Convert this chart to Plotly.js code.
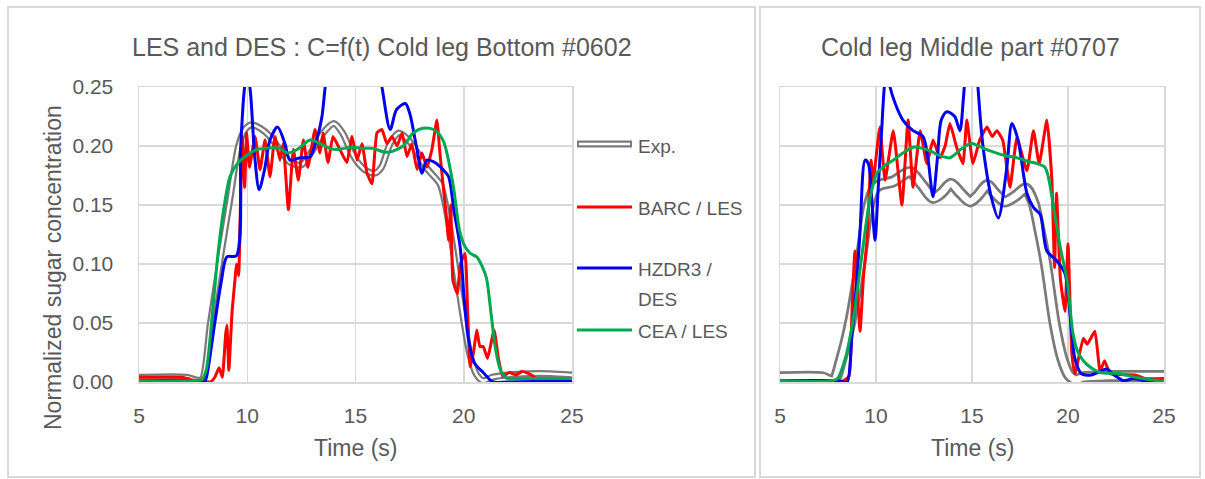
<!DOCTYPE html>
<html>
<head>
<meta charset="utf-8">
<script src="https://cdn.plot.ly/plotly-3.0.1.min.js"></script>
<style>html,body{margin:0;padding:0;background:#fff;}#chart{width:1205px;height:479px;}</style>
</head>
<body>
<div id="chart"></div>
<script>
// ---------- DATA ----------
const xTicks = [5, 10, 15, 20, 25];
const yTicks = [0, 0.05, 0.10, 0.15, 0.20, 0.25];
const seriesNames = ["Exp.", "BARC / LES", "HZDR3 / DES", "CEA / LES"];

// Left panel: Cold leg Bottom #0602
const expL_t = [5, 7.2, 7.6, 7.9, 8.3, 8.74, 9.2, 9.6, 9.9, 10.2, 10.6, 11.0, 11.5, 12.0, 12.5, 13.0, 13.5, 14.0, 14.4, 14.8, 15.1, 15.5, 15.9, 16.2, 16.6, 17.0, 17.4, 17.8, 18.3, 18.9, 19.1, 19.4, 19.7, 20.0, 20.3, 20.6, 20.9, 21.3, 22, 23, 24, 25];
const expL_c = [0.004, 0.004, 0.002, 0.002, 0.05, 0.103, 0.155, 0.2, 0.214, 0.218, 0.215, 0.209, 0.197, 0.186, 0.184, 0.196, 0.211, 0.219, 0.211, 0.195, 0.186, 0.179, 0.177, 0.182, 0.202, 0.211, 0.206, 0.196, 0.181, 0.168, 0.155, 0.125, 0.088, 0.052, 0.022, 0.006, 0.001, 0.004, 0.006, 0.007, 0.007, 0.006];

const barcL_t = [5, 7.0, 7.4, 7.8, 8.3, 8.5, 8.7, 8.85, 9.0, 9.06, 9.15, 9.3, 9.43, 9.5, 9.6, 9.76, 9.88, 9.97, 10.1, 10.36, 10.59, 10.82, 11.05, 11.28, 11.51, 11.66, 11.9, 12.13, 12.36, 12.59, 12.8, 13.13, 13.36, 13.5, 13.73, 13.96, 14.28, 14.6, 14.84, 15.07, 15.3, 15.53, 15.76, 15.99, 16.22, 16.45, 16.69, 16.92, 17.15, 17.38, 17.6, 17.84, 18.07, 18.3, 18.53, 18.76, 18.9, 19.04, 19.2, 19.3, 19.4, 19.5, 19.7, 19.85, 20.06, 20.18, 20.3, 20.45, 20.6, 20.75, 20.9, 21.1, 21.4, 21.6, 21.8, 22.1, 22.4, 22.7, 23.0, 23.2, 23.4, 25];
const barcL_c = [0.004, 0.004, 0.002, 0.001, 0.0, 0.004, 0.012, 0.004, 0.04, 0.048, 0.01, 0.06, 0.086, 0.10, 0.09, 0.208, 0.165, 0.211, 0.182, 0.208, 0.18, 0.205, 0.174, 0.208, 0.188, 0.202, 0.146, 0.197, 0.171, 0.205, 0.182, 0.214, 0.194, 0.211, 0.186, 0.208, 0.197, 0.186, 0.208, 0.188, 0.202, 0.177, 0.168, 0.211, 0.214, 0.202, 0.208, 0.2, 0.211, 0.191, 0.202, 0.18, 0.194, 0.182, 0.197, 0.222, 0.194, 0.168, 0.14, 0.12, 0.15, 0.086, 0.075, 0.1, 0.109, 0.06, 0.013, 0.025, 0.044, 0.03, 0.03, 0.02, 0.044, 0.02, 0.005, 0.008, 0.006, 0.009, 0.007, 0.005, 0.002, 0.002];

const hzdrL_t = [5, 7.0, 7.5, 8.0, 8.1, 8.5, 8.8, 9.06, 9.5, 9.7, 9.85, 10.0, 10.15, 10.35, 10.55, 10.8, 11.05, 11.4, 11.74, 11.97, 12.44, 12.9, 13.2, 13.45, 13.6, 13.9, 14.5, 15.2, 15.8, 16.22, 16.6, 16.9, 17.3, 17.5, 17.84, 18.07, 18.3, 18.67, 19.04, 19.3, 19.55, 19.83, 20.0, 20.2, 20.5, 20.9, 21.35, 22, 25];
const hzdrL_c = [0.001, 0.001, 0.0, 0.0, 0.003, 0.05, 0.085, 0.106, 0.107, 0.2, 0.245, 0.265, 0.245, 0.19, 0.163, 0.18, 0.205, 0.216, 0.202, 0.188, 0.19, 0.191, 0.205, 0.225, 0.25, 0.29, 0.33, 0.33, 0.29, 0.25, 0.214, 0.231, 0.236, 0.228, 0.197, 0.177, 0.188, 0.186, 0.18, 0.174, 0.145, 0.115, 0.075, 0.038, 0.016, 0.008, 0.0, 0.0, 0.001];

const ceaL_t = [5, 7.5, 7.9, 8.1, 8.4, 8.65, 8.9, 9.2, 9.5, 9.83, 10.45, 11.5, 11.85, 12.3, 12.9, 13.36, 13.8, 14.2, 14.75, 15.3, 15.8, 16.3, 16.6, 17.2, 17.66, 18.1, 18.6, 19.04, 19.5, 19.8, 20.05, 20.3, 20.6, 20.85, 21.05, 21.25, 21.45, 21.7, 22.0, 22.5, 25];
const ceaL_c = [0.001, 0.001, 0.002, 0.01, 0.06, 0.109, 0.145, 0.174, 0.184, 0.19, 0.197, 0.198, 0.194, 0.197, 0.205, 0.202, 0.198, 0.197, 0.199, 0.198, 0.198, 0.195, 0.195, 0.2, 0.211, 0.215, 0.214, 0.205, 0.168, 0.129, 0.115, 0.109, 0.106, 0.098, 0.088, 0.06, 0.03, 0.01, 0.003, 0.003, 0.003];

// Right panel: Cold leg Middle part #0707
const expR_t = [5, 7.2, 7.5, 7.8, 8.2, 8.65, 9.17, 9.6, 9.9, 10.2, 10.9, 11.77, 12.4, 12.97, 13.4, 13.9, 14.4, 14.9, 15.3, 15.8, 16.2, 16.7, 17.3, 17.8, 18.2, 18.5, 18.85, 19.3, 19.7, 20.05, 20.4, 20.8, 22, 25];
const expR_c = [0.004, 0.004, 0.002, 0.001, 0.02, 0.05, 0.1, 0.148, 0.163, 0.167, 0.17, 0.178, 0.167, 0.156, 0.16, 0.168, 0.16, 0.153, 0.158, 0.167, 0.16, 0.153, 0.158, 0.164, 0.152, 0.13, 0.1, 0.05, 0.02, 0.006, 0.002, 0.004, 0.005, 0.005];

const barcR_t = [5, 8.3, 8.6, 8.75, 8.9, 9.05, 9.17, 9.35, 9.53, 9.74, 9.85, 10.2, 10.47, 10.9, 11.35, 11.67, 11.93, 12.3, 12.65, 12.97, 13.33, 13.6, 13.85, 14.2, 14.53, 14.73, 15.05, 15.4, 15.78, 16.05, 16.3, 16.6, 16.98, 17.34, 17.86, 18.2, 18.5, 18.9, 19.16, 19.3, 19.4, 19.6, 19.84, 20.0, 20.2, 20.36, 20.8, 21.0, 21.4, 21.67, 21.9, 22.2, 23.5, 24, 25];
const barcR_c = [0.001, 0.001, 0.005, 0.06, 0.111, 0.07, 0.043, 0.09, 0.12, 0.188, 0.17, 0.216, 0.171, 0.213, 0.15, 0.222, 0.165, 0.213, 0.185, 0.205, 0.19, 0.2, 0.219, 0.199, 0.185, 0.222, 0.185, 0.205, 0.216, 0.208, 0.213, 0.205, 0.165, 0.207, 0.179, 0.213, 0.185, 0.222, 0.171, 0.097, 0.16, 0.088, 0.06, 0.117, 0.024, 0.007, 0.037, 0.032, 0.043, 0.009, 0.018, 0.007, 0.006, 0.003, 0.003];

const hzdrR_t = [5, 8.0, 8.3, 8.5, 8.75, 9.0, 9.17, 9.43, 9.6, 9.8, 9.95, 10.1, 10.3, 10.47, 10.6, 10.73, 11.0, 11.4, 11.93, 12.45, 12.7, 12.97, 13.2, 13.4, 13.7, 14.1, 14.37, 14.55, 14.7, 15.0, 15.26, 15.45, 15.6, 16.0, 16.37, 16.8, 17.08, 17.4, 17.86, 18.2, 18.55, 18.9, 19.4, 19.84, 20.1, 20.36, 20.7, 21.2, 21.67, 22.0, 22.4, 22.9, 23.4, 24, 25];
const hzdrR_c = [0.001, 0.001, 0.0, 0.0, 0.04, 0.086, 0.128, 0.188, 0.185, 0.15, 0.12, 0.16, 0.215, 0.255, 0.262, 0.25, 0.236, 0.222, 0.213, 0.208, 0.19, 0.157, 0.19, 0.222, 0.229, 0.225, 0.213, 0.24, 0.27, 0.3, 0.26, 0.22, 0.196, 0.157, 0.139, 0.18, 0.219, 0.205, 0.16, 0.148, 0.142, 0.111, 0.103, 0.092, 0.058, 0.02, 0.007, 0.006, 0.009, 0.011, 0.006, 0.001, 0.003, 0.001, 0.001];

const ceaR_t = [5, 7.7, 8.0, 8.4, 8.8, 9.32, 9.7, 10.05, 10.5, 10.9, 11.4, 11.93, 12.4, 12.8, 13.3, 13.85, 14.4, 14.9, 15.05, 15.6, 16.1, 16.7, 17.34, 17.9, 18.4, 18.8, 19.0, 19.16, 19.6, 19.95, 20.26, 20.5, 20.8, 21.2, 21.67, 22.7, 23.5, 24.8, 25];
const ceaR_c = [0.001, 0.001, 0.003, 0.02, 0.052, 0.114, 0.157, 0.177, 0.184, 0.188, 0.194, 0.199, 0.198, 0.196, 0.192, 0.19, 0.197, 0.202, 0.202, 0.198, 0.195, 0.192, 0.19, 0.187, 0.185, 0.182, 0.172, 0.157, 0.114, 0.086, 0.041, 0.026, 0.018, 0.012, 0.008, 0.007, 0.004, 0.001, 0.001];

// ---------- STYLE ----------
const W = 1205, H = 479;
const GRAY = '#7a7a7a', RED = '#ff0000', BLUE = '#0000f0', GREEN = '#00a84f';
const TXT = '#595959', GRID = '#d9d9d9';
const FONT = 'Liberation Sans, Arial, sans-serif';
const px = v => v / W, py = v => 1 - v / H;

function tr(x, y, color, width, xa, ya, shape, smooth) {
  return {x: x, y: y, type: 'scatter', mode: 'lines', xaxis: xa, yaxis: ya,
    line: {color: color, width: width, shape: shape || 'spline', smoothing: smooth === undefined ? 0.8 : smooth},
    hoverinfo: 'skip', showlegend: false};
}

const data = [
  tr(expL_t, expL_c, GRAY, 7, 'x', 'y'),
  tr(expL_t, expL_c, '#ffffff', 2.5, 'x', 'y'),
  tr(barcL_t, barcL_c, RED, 3, 'x', 'y', 'spline', 0.4),
  tr(hzdrL_t, hzdrL_c, BLUE, 3, 'x', 'y'),
  tr(ceaL_t, ceaL_c, GREEN, 3, 'x', 'y'),
  tr(expR_t, expR_c, GRAY, 12, 'x2', 'y2'),
  tr(expR_t, expR_c, '#ffffff', 6.5, 'x2', 'y2'),
  tr(barcR_t, barcR_c, RED, 3, 'x2', 'y2', 'spline', 0.4),
  tr(hzdrR_t, hzdrR_c, BLUE, 3, 'x2', 'y2'),
  tr(ceaR_t, ceaR_c, GREEN, 3, 'x2', 'y2')
];

const axX = {
  range: [5, 25], tickvals: xTicks, ticktext: xTicks.map(String),
  showgrid: true, gridcolor: GRID, gridwidth: 1.5, zeroline: false,
  showline: true, linecolor: GRID, linewidth: 1.5, mirror: true,
  ticks: '', ticklabelstandoff: 14, fixedrange: true,
  tickfont: {family: FONT, size: 21, color: TXT}
};
const axY = {
  range: [0, 0.25], tickvals: yTicks, tickformat: '.2f',
  showgrid: true, gridcolor: GRID, gridwidth: 1.5, zeroline: false,
  showline: true, linecolor: GRID, linewidth: 1.5, mirror: true,
  ticks: '', ticklabelstandoff: 20, fixedrange: true,
  tickfont: {family: FONT, size: 21, color: TXT}
};

const yDom = [1 - 382 / H, 1 - 87 / H];
const layout = {
  width: W, height: H, margin: {l: 0, r: 0, t: 0, b: 0},
  paper_bgcolor: '#ffffff', plot_bgcolor: '#ffffff', showlegend: false,
  xaxis: Object.assign({}, axX, {domain: [px(139), px(572)], anchor: 'y'}),
  yaxis: Object.assign({}, axY, {domain: yDom, anchor: 'x'}),
  xaxis2: Object.assign({}, axX, {domain: [px(780), px(1164)], anchor: 'y2'}),
  yaxis2: Object.assign({}, axY, {domain: yDom, anchor: 'x2', showticklabels: false}),
  shapes: [
    {type: 'rect', xref: 'paper', yref: 'paper', x0: px(8), x1: px(755), y0: py(477), y1: py(7), line: {color: GRID, width: 2}},
    {type: 'rect', xref: 'paper', yref: 'paper', x0: px(760), x1: px(1200), y0: py(477), y1: py(7), line: {color: GRID, width: 2}},
    // legend samples
    {type: 'line', xref: 'paper', yref: 'paper', x0: px(577), x1: px(632), y0: py(144), y1: py(144), line: {color: GRAY, width: 7}},
    {type: 'line', xref: 'paper', yref: 'paper', x0: px(579), x1: px(630), y0: py(144), y1: py(144), line: {color: '#ffffff', width: 2.5}},
    {type: 'line', xref: 'paper', yref: 'paper', x0: px(577), x1: px(632), y0: py(207), y1: py(207), line: {color: RED, width: 3}},
    {type: 'line', xref: 'paper', yref: 'paper', x0: px(577), x1: px(632), y0: py(268), y1: py(268), line: {color: BLUE, width: 3}},
    {type: 'line', xref: 'paper', yref: 'paper', x0: px(577), x1: px(632), y0: py(330), y1: py(330), line: {color: GREEN, width: 3}}
  ],
  annotations: [
    {text: 'LES and DES : C=f(t) Cold leg Bottom #0602', xref: 'paper', yref: 'paper', x: px(382), y: py(47), xanchor: 'center', yanchor: 'middle', showarrow: false, font: {family: FONT, size: 25, color: TXT}},
    {text: 'Cold leg Middle part #0707', xref: 'paper', yref: 'paper', x: px(970), y: py(47), xanchor: 'center', yanchor: 'middle', showarrow: false, font: {family: FONT, size: 25, color: TXT}},
    {text: 'Time (s)', xref: 'paper', yref: 'paper', x: px(355), y: py(448), xanchor: 'center', yanchor: 'middle', showarrow: false, font: {family: FONT, size: 23, color: TXT}},
    {text: 'Time (s)', xref: 'paper', yref: 'paper', x: px(972), y: py(448), xanchor: 'center', yanchor: 'middle', showarrow: false, font: {family: FONT, size: 23, color: TXT}},
    {text: 'Normalized sugar concentration', xref: 'paper', yref: 'paper', x: px(53), y: py(268), xanchor: 'center', yanchor: 'middle', textangle: -90, showarrow: false, font: {family: FONT, size: 23, color: TXT}},
    {text: seriesNames[0], xref: 'paper', yref: 'paper', x: px(636), y: py(146), xanchor: 'left', yanchor: 'middle', showarrow: false, font: {family: FONT, size: 19, color: TXT}},
    {text: seriesNames[1], xref: 'paper', yref: 'paper', x: px(636), y: py(208), xanchor: 'left', yanchor: 'middle', showarrow: false, font: {family: FONT, size: 19, color: TXT}},
    {text: 'HZDR3 /', xref: 'paper', yref: 'paper', x: px(636), y: py(269), xanchor: 'left', yanchor: 'middle', showarrow: false, font: {family: FONT, size: 19, color: TXT}},
    {text: 'DES', xref: 'paper', yref: 'paper', x: px(636), y: py(299), xanchor: 'left', yanchor: 'middle', showarrow: false, font: {family: FONT, size: 19, color: TXT}},
    {text: seriesNames[3], xref: 'paper', yref: 'paper', x: px(636), y: py(331), xanchor: 'left', yanchor: 'middle', showarrow: false, font: {family: FONT, size: 19, color: TXT}}
  ]
};

Plotly.newPlot('chart', data, layout, {displayModeBar: false, staticPlot: true});
</script>
</body>
</html>
